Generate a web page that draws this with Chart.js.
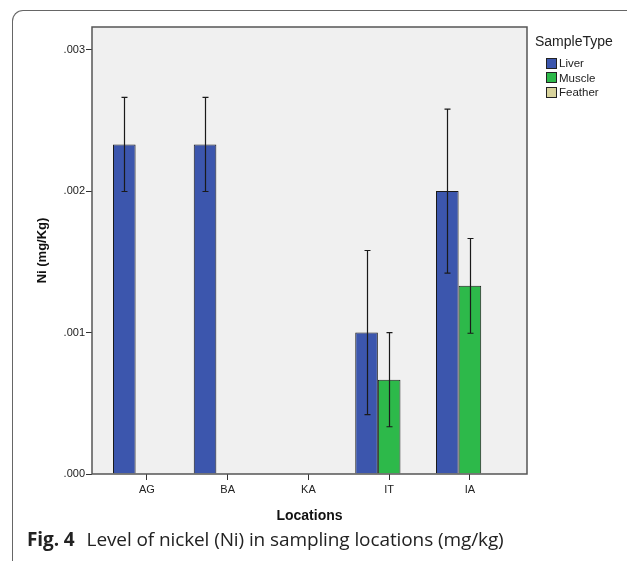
<!DOCTYPE html>
<html>
<head>
<meta charset="utf-8">
<script src="https://cdn.jsdelivr.net/npm/chart.js@4"></script>
<style>
  body { margin: 0; background: #fff; }
  #wrap { position: relative; width: 627px; height: 561px; overflow: hidden; }
  #frame { position: absolute; left: 12px; top: 10px; width: 700px; height: 700px;
           border-top: 1px solid #666; border-left: 1px solid #666; border-top-left-radius: 11px; }
  canvas { position: absolute; left: 0; top: 0; }
  #legend { position: absolute; left: 535px; top: 33px; font-family: "Liberation Sans", Arial, sans-serif; color: #222; }
  #legend .ttl { font-size: 14px; margin-bottom: 7px; }
  #legend .it { font-size: 11.5px; height: 14.5px; line-height: 14.5px; padding-left: 11px; display: flex; align-items: center; }
  #legend .it span { display: inline-block; width: 9px; height: 9px; border: 1px solid #222; margin-right: 2px; }
  #caption { position: absolute; left: 27px; top: 526px; font-family: "Open Sans", sans-serif; font-size: 19px; color: #222; white-space: nowrap; letter-spacing: -0.1px; }
  #caption b { font-weight: 700; margin-right: 12px; }
</style>
</head>
<body>
<div id="wrap">
  <div id="frame"></div>
  <canvas id="niChart" width="627" height="561"></canvas>
  <div id="legend"></div>
  <div id="caption"><b>Fig. 4</b>Level of nickel (Ni) in sampling locations (mg/kg)</div>
</div>
<script>
// Adatok
const locations = ['AG', 'BA', 'KA', 'IT', 'IA'];
const liver = [0.00233, 0.00233, null, 0.001, 0.002];
const liverErr = [0.000333, 0.000333, null, 0.00058, 0.00058];
const muscle = [null, null, null, 0.000667, 0.00133];
const muscleErr = [null, null, null, 0.000333, 0.000335];
const feather = [null, null, null, null, null];
const featherErr = [null, null, null, null, null];

const seriesNames = ['Liver', 'Muscle', 'Feather'];
const seriesColors = ['#3C56AD', '#2DB94A', '#D8D39C'];

// legend (HTML)
const legend = document.getElementById('legend');
legend.innerHTML = '<div class="ttl">SampleType</div>' + seriesNames.map((n, i) =>
    '<div class="it"><span style="background:' + seriesColors[i] + '"></span>' + n + '</div>').join('');

// plot background, frame, error bars
const spssPlugin = {
    id: 'spss',
    beforeDatasetsDraw(chart) {
        const a = chart.chartArea, c = chart.ctx;
        c.save();
        c.fillStyle = '#F0F0F0';
        c.fillRect(a.left, a.top, a.right - a.left, a.bottom - a.top);
        c.restore();
    },
    afterDatasetsDraw(chart) {
        const a = chart.chartArea, c = chart.ctx;
        const y = chart.scales.y;
        c.save();
        c.strokeStyle = '#1a1a1a';
        c.lineWidth = 1.2;
        chart.data.datasets.forEach((ds, i) => {
            const meta = chart.getDatasetMeta(i);
            ds.data.forEach((v, j) => {
                const e = ds.errors[j];
                if (v == null || e == null) return;
                const x = Math.round(meta.data[j].x) + 0.5;
                const yt = y.getPixelForValue(v + e), yb = y.getPixelForValue(v - e);
                c.beginPath();
                c.moveTo(x, yt); c.lineTo(x, yb);
                c.moveTo(x - 3, yt); c.lineTo(x + 3, yt);
                c.moveTo(x - 3, yb); c.lineTo(x + 3, yb);
                c.stroke();
            });
        });
        c.strokeStyle = '#555';
        c.lineWidth = 1.5;
        c.strokeRect(a.left, a.top, a.right - a.left, a.bottom - a.top);
        c.restore();
    }
};

Chart.defaults.font.family = '"Liberation Sans", Arial, sans-serif';
Chart.defaults.color = '#222';

const ctx = document.getElementById('niChart').getContext('2d');
new Chart(ctx, {
    type: 'bar',
    data: {
        labels: locations,
        datasets: [
            { label: seriesNames[0], data: liver, errors: liverErr },
            { label: seriesNames[1], data: muscle, errors: muscleErr },
            { label: seriesNames[2], data: feather, errors: featherErr }
        ].map((d, i) => Object.assign(d, {
            backgroundColor: seriesColors[i],
            borderColor: '#1a1a1a',
            borderWidth: 1,
            categoryPercentage: 0.84,
            barPercentage: 1
        }))
    },
    plugins: [spssPlugin],
    options: {
        responsive: false,
        animation: false,
        layout: { padding: { left: 0, top: 27, right: 100, bottom: 0 } },
        plugins: { legend: { display: false }, tooltip: { enabled: false } },
        scales: {
            x: {
                afterFit: s => { s.height = 87; },
                // a tengely szélein több hely van, mint a Chart.js alapból hagy
                afterBuildTicks: s => { s._startValue = -0.68; s._valueRange = 5.387; },
                border: { display: false },
                grid: { offset: false, drawOnChartArea: false, drawTicks: true, tickLength: 6, color: '#333' },
                ticks: { font: { size: 11 }, padding: 3, color: '#222' },
                title: { display: true, text: 'Locations', font: { size: 14, weight: 'bold' }, padding: { bottom: 36 }, color: '#111' }
            },
            y: {
                min: 0,
                max: 0.00316,
                afterFit: s => { s.width = 92; },
                border: { display: false },
                grid: { drawOnChartArea: false, drawTicks: true, tickLength: 6, color: '#333' },
                ticks: {
                    stepSize: 0.001,
                    includeBounds: false,
                    padding: 1,
                    font: { size: 11 },
                    color: '#222',
                    callback: v => v.toFixed(3).replace(/^0/, '')
                },
                title: { display: true, text: 'Ni (mg/Kg)', font: { size: 13, weight: 'bold' }, padding: { top: 35 }, color: '#111' }
            }
        }
    }
});
</script>
</body>
</html>
